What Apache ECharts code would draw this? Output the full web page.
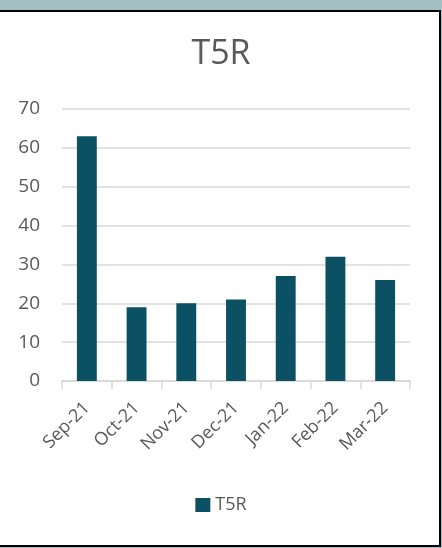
<!DOCTYPE html>
<html><head><meta charset="utf-8">
<script src="https://cdn.jsdelivr.net/npm/echarts@6/dist/echarts.min.js"></script>
<style>
html,body{margin:0;padding:0;width:442px;height:548px;background:#a3bfc6;overflow:hidden;}
#box{position:absolute;left:-2px;top:10px;width:439px;height:533px;background:#fff;border:2px solid #000;}
#chart{position:absolute;left:0;top:0;width:442px;height:548px;}
</style></head>
<body>
<div id="box"></div>
<div id="chart"></div>
<script>
const categories = ['Sep-21','Oct-21','Nov-21','Dec-21','Jan-22','Feb-22','Mar-22'];
const seriesName = 'T5R';
const values = [63, 19, 20, 21, 27, 32, 26];
const yTicks = {min: 0, max: 70, interval: 10};

const font = '"Open Sans", "Noto Sans", sans-serif';
const chart = echarts.init(document.getElementById('chart'), null, {renderer:'canvas'});
chart.setOption({
  animation:false,
  title:{text:'T5R', left:'center', top:32, textStyle:{fontFamily:font, fontSize:34, fontWeight:'normal', color:'#595959'}},
  legend:{bottom:29, left:'center', itemWidth:15, itemHeight:14, icon:'rect', itemGap:4,
    textStyle:{fontFamily:font, fontSize:18, color:'#595959'}, data:[seriesName]},
  grid:{left:62, right:32, top:109, bottom:167, containLabel:false},
  xAxis:{type:'category', data:categories,
    axisLine:{lineStyle:{color:'#d9d9d9', width:1.5}},
    axisTick:{show:true, length:8, lineStyle:{color:'#d9d9d9', width:1.5}},
    axisLabel:{rotate:45, margin:24, fontFamily:font, fontSize:18, color:'#595959', padding:[0,0,0,0]}},
  yAxis:{type:'value', min:yTicks.min, max:yTicks.max, interval:yTicks.interval,
    axisLine:{show:false}, axisTick:{show:false},
    splitLine:{lineStyle:{color:'#d9d9d9', width:1.5}},
    axisLabel:{margin:22, fontFamily:font, fontSize:19, color:'#595959'}},
  series:[{name:seriesName, type:'bar', data:values, barWidth:'40%',
    itemStyle:{color:'#0b5063'}}]
});
</script>
</body></html>
